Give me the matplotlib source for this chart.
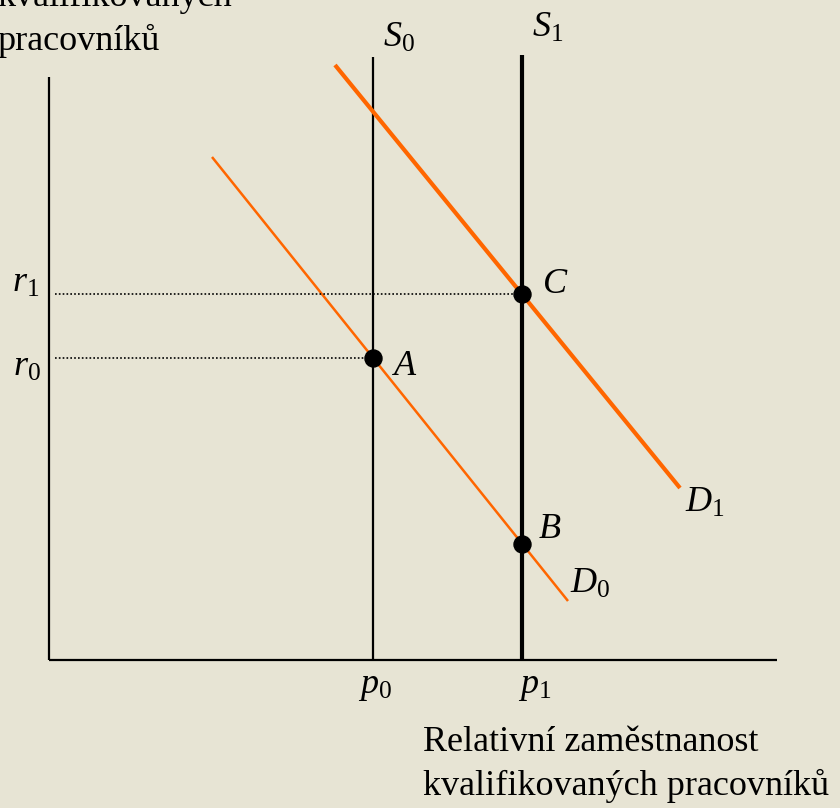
import matplotlib.pyplot as plt

# data units: x = relative employment, y = relative wage (origin at axis corner)
p_values = [324, 473]          # p0, p1
r_values = [302, 366]          # r0, r1
supply_top = [603, 605]        # top ends of S0, S1
d0_x = [163, 519]
d0_y = [503, 59]
d1_x = [286, 631]
d1_y = [595, 172]
points_x = [324, 473, 473]     # A, B, C
points_y = [302, 116, 366]
point_names = ["A", "B", "C"]

bg = "#e7e4d4"
orange = "#ff6600"

plt.rcParams["font.family"] = ["Liberation Serif", "DejaVu Serif"]
plt.rcParams["mathtext.fontset"] = "custom"
plt.rcParams["mathtext.rm"] = "Liberation Serif"
plt.rcParams["mathtext.it"] = "Liberation Serif:italic"

fig = plt.figure(figsize=(8.4, 8.08), dpi=100, facecolor=bg)
ax = fig.add_axes([0, 0, 1, 1])
ax.set_facecolor(bg)
ax.set_xlim(-49, 791)
ax.set_ylim(-148, 660)
ax.axis("off")

# axes
ax.plot([0, 0], [0, 583], color="black", lw=1.6, solid_capstyle="butt")
ax.plot([0, 728], [0, 0], color="black", lw=1.6, solid_capstyle="butt")

# supply curves
ax.plot([p_values[0]] * 2, [0, supply_top[0]], color="black", lw=1.6, solid_capstyle="butt")
ax.plot([p_values[1]] * 2, [0, supply_top[1]], color="black", lw=3.0, solid_capstyle="butt")

# demand curves
ax.plot(d0_x, d0_y, color=orange, lw=1.8, solid_capstyle="butt")
ax.plot(d1_x, d1_y, color=orange, lw=3.0, solid_capstyle="butt")

# dotted guides to wage axis
ax.plot([6, p_values[0]], [r_values[0]] * 2, color="black", lw=1.2, ls=(0, (1, 1.3)))
ax.plot([6, p_values[1]], [r_values[1]] * 2, color="black", lw=1.2, ls=(0, (1, 1.3)))

# equilibrium points
ax.scatter(points_x, points_y, s=150, color="black", zorder=5)

fs = 26
label_off = {"A": (19, -17), "B": (16, 6), "C": (20, 1)}
for name, x, y in zip(point_names, points_x, points_y):
    dx, dy = label_off[name]
    ax.text(x + dx, y + dy, f"${name}$", fontsize=fs, va="baseline", ha="left")

ax.text(p_values[0] + 10, 613, "$S_0$", fontsize=fs, va="baseline")
ax.text(p_values[1] + 10, 623, "$S_1$", fontsize=fs, va="baseline")
ax.text(d0_x[1] + 2, 67, "$D_0$", fontsize=fs, va="baseline")
ax.text(d1_x[1] + 5, 148, "$D_1$", fontsize=fs, va="baseline")

ax.text(-37, 368, "$r_1$", fontsize=fs, va="baseline")
ax.text(-36, 284, "$r_0$", fontsize=fs, va="baseline")
ax.text(p_values[0] - 15, -33, "$p_0$", fontsize=fs, va="baseline")
ax.text(p_values[1] - 4, -33, "$p_1$", fontsize=fs, va="baseline")

# multi-line text: baseline refers to the last line
ax.text(374, -135, "Relativní zaměstnanost\nkvalifikovaných pracovníků",
        fontsize=fs, va="baseline", ha="left", linespacing=1.38)
ax.text(-52, 610, "kvalifikovaných\npracovníků",
        fontsize=fs, va="baseline", ha="left", linespacing=1.38)

fig.savefig("out.png", dpi=100, facecolor=bg)
